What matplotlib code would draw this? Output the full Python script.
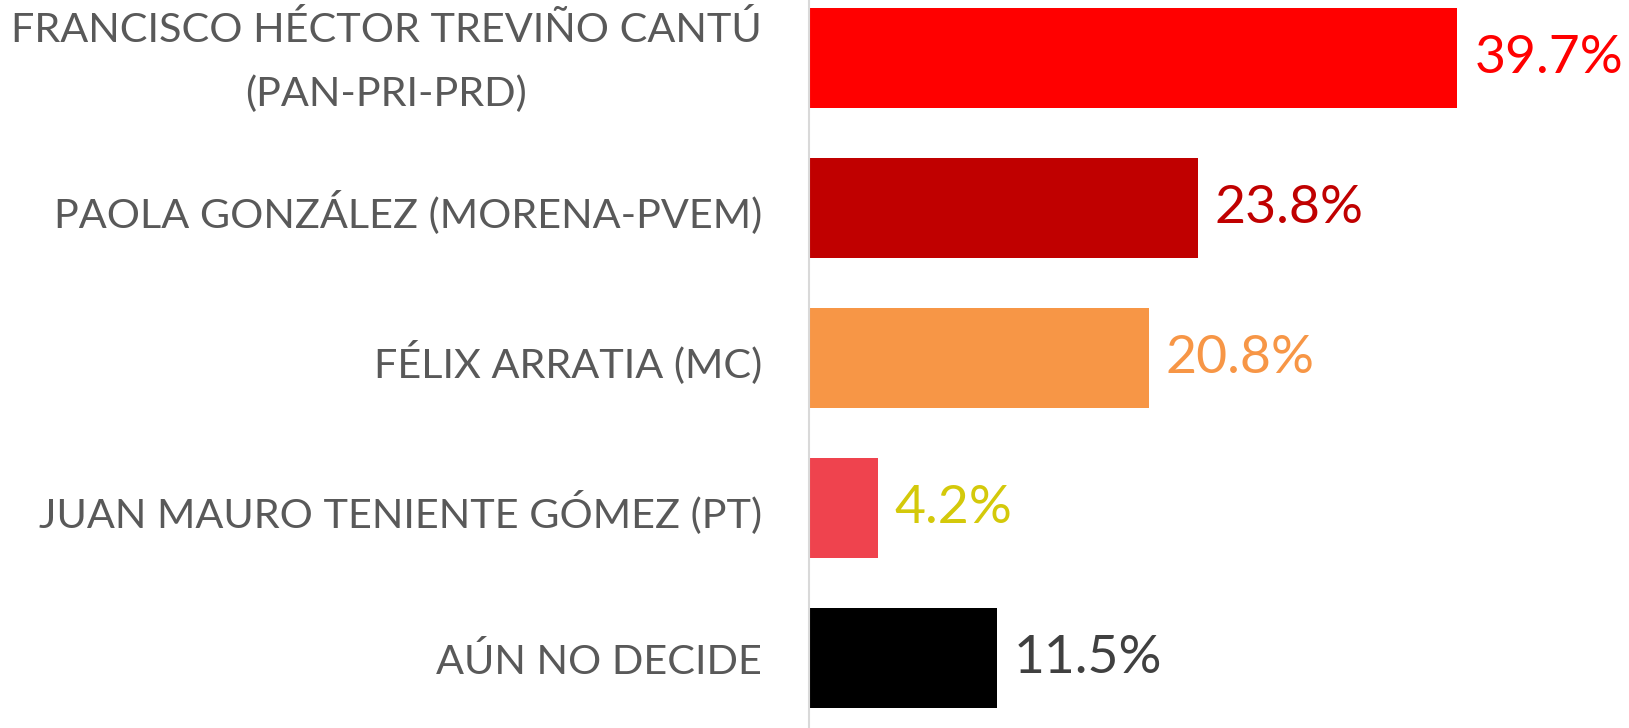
import matplotlib
matplotlib.use("Agg")
import matplotlib.pyplot as plt
import matplotlib.transforms as mtransforms

categories = ["FRANCISCO HÉCTOR TREVIÑO CANTÚ\n(PAN-PRI-PRD)",
              "PAOLA GONZÁLEZ (MORENA-PVEM)",
              "FÉLIX ARRATIA (MC)",
              "JUAN MAURO TENIENTE GÓMEZ (PT)",
              "AÚN NO DECIDE"]
values = [39.7, 23.8, 20.8, 4.2, 11.5]
bar_colors = ["#FF0000", "#C00000", "#F79646", "#EF434E", "#000000"]
label_colors = ["#FF0000", "#C00000", "#F79646", "#D4C90A", "#404040"]

W, H = 1629, 728
fig = plt.figure(figsize=(W / 100, H / 100), dpi=100)
left_px = 809
ax = fig.add_axes([left_px / W, 0, 1 - left_px / W, 1])

px_per_unit = 16.33
ax.set_xlim(0, (W - left_px) / px_per_unit)
first_c, spacing = 58.2, 150.0
ax.set_ylim((H - first_c) / spacing, -first_c / spacing)

y = list(range(len(values)))
ax.barh(y, values, height=99.7 / spacing, color=bar_colors)

font = "Lato"
for yi, v, c in zip(y, values, label_colors):
    ax.text(v + 17 / px_per_unit, yi, f"{v}%", va="center", ha="left",
            fontsize=38.5, color=c, family=font)

ax.tick_params(axis="y", length=0, pad=34)
ax.tick_params(axis="x", bottom=False, labelbottom=False)
ax.set_yticks(y)
ax.set_yticklabels(categories, family=font, fontsize=29.8, color="#595959")
for t in ax.get_yticklabels():
    t.set_multialignment("center")
    if "\n" in t.get_text():
        t.set_linespacing(1.85)
        t.set_va("center")
        t.set_transform(t.get_transform() +
                        mtransforms.ScaledTranslation(0, -4 / 100, fig.dpi_scale_trans))

for s in ["top", "right", "bottom"]:
    ax.spines[s].set_visible(False)
ax.spines["left"].set_color("#D9D9D9")
ax.spines["left"].set_linewidth(1.5)

fig.savefig("out.png", dpi=100)
